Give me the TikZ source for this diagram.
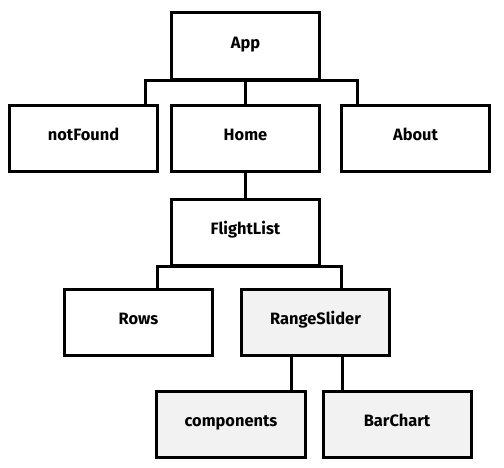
\documentclass[tikz,border=0pt]{standalone}
\usepackage{fontspec}
\setmainfont{Fira Sans}
\usepackage{xcolor}
\usepackage{tikz}
\usetikzlibrary{positioning}
\definecolor{lightfill}{HTML}{F2F2F2}

\begin{document}
\begin{tikzpicture}[
    every node/.style={rectangle, draw, line width=3bp,
                       fill=white,
                       minimum width=148bp,
                       minimum height=66bp,
                       inner sep=0pt,
                       text height=12bp,
                       text depth=7bp,
                       font=\bfseries\fontsize{16.5}{18}\selectfont},
    greybox/.style={fill=lightfill},
    link/.style={line width=3bp}
]
\useasboundingbox (-245.5bp,46bp) rectangle (258.5bp,-422bp);
\node (app) {App};
\node (home) [below=23bp of app] {Home};
\node (notfound) [left=11bp of home] {notFound};
\node (about) [right=19bp of home] {About};
\node (flight) [below=25bp of home] {FlightList};
\node (rows) [below=21bp of flight, xshift=-107bp] {Rows};
\node (range) [greybox, right=26bp of rows] {RangeSlider};
\node (comp) [greybox, below=33bp of range, xshift=-84.5bp] {components};
\node (chart) [greybox, right=15bp of comp] {BarChart};

\draw[link] (app.south) -- (home.north);
\draw[link] ([xshift=62bp]notfound.north) |- (app.south) -| ([xshift=-58.5bp]about.north);
\draw[link] (home.south) -- (flight.north);
\draw[link] ([xshift=19bp]rows.north) |- (flight.south) -| ([xshift=26bp]range.north);
\draw[link] ([xshift=60.5bp]comp.north) -- ([xshift=60.5bp]comp.north |- range.south);
\draw[link] ([xshift=-54.5bp]chart.north) -- ([xshift=-54.5bp]chart.north |- range.south);
\end{tikzpicture}
\end{document}
